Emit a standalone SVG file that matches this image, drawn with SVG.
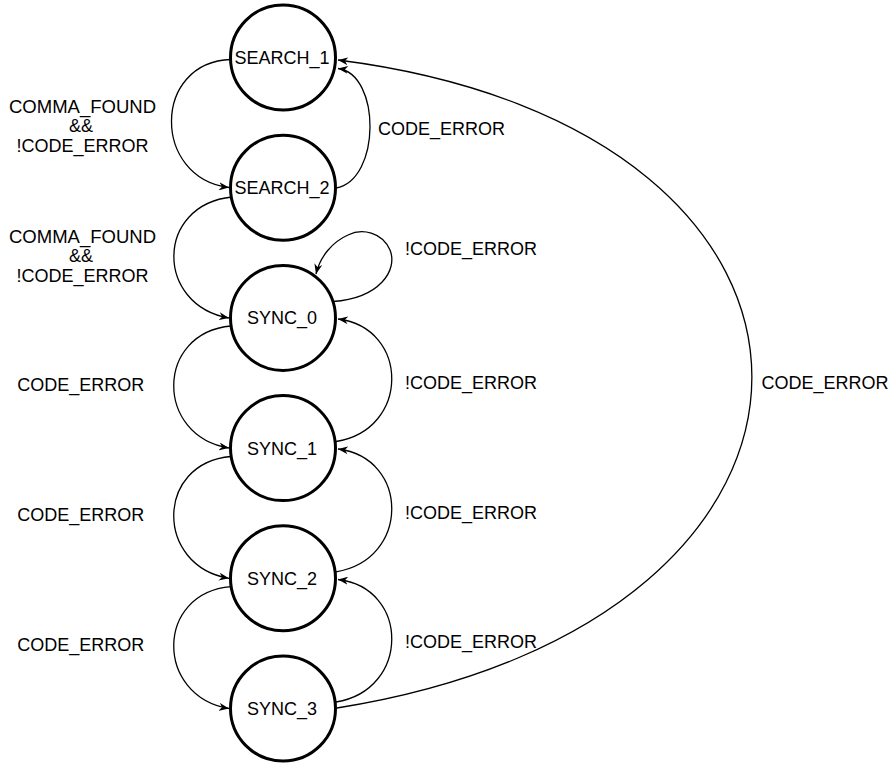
<svg xmlns="http://www.w3.org/2000/svg" width="893" height="763" viewBox="0 0 893 763">
<style>
.node circle{fill:#fff;stroke:#000;stroke-width:3}
text{font-family:"Liberation Sans",Arial,sans-serif;font-size:18px;fill:#000;text-anchor:middle}
.edge{fill:none;stroke:#000;stroke-width:1.3;marker-end:url(#arr)}
</style>
<defs>
<marker id="arr" viewBox="0 0 10 8" refX="10" refY="4" markerWidth="10" markerHeight="8" markerUnits="userSpaceOnUse" orient="auto">
<path d="M0,0 L10,4 L0,8 L3,4 Z" fill="#000"/>
</marker>
</defs>
<rect width="893" height="763" fill="#fff"/>
<g id="connectors">
<path class="edge" d="M231,59.5 C152,62 152,178 229,187.5"/>
<path class="edge" d="M336,188 C381,180 381,74 338,68.5"/>
<path class="edge" d="M232,197 C155,205 155,305 229,318"/>
<path class="edge" d="M333,301.5 C380,298 398,270 390,250 C382,232 362,228 348,235 C332,242 320,257 316,274"/>
<path class="edge" d="M231,326 C155,333 155,436 229,448"/>
<path class="edge" d="M336,441.5 C410,430 410,328 338,319"/>
<path class="edge" d="M231,456.5 C155,463 155,566 229,578.3"/>
<path class="edge" d="M336,571.8 C410,560 410,458 338,449"/>
<path class="edge" d="M231,586.7 C155,593 155,696 229,708.5"/>
<path class="edge" d="M336,702 C410,690 410,588 338,579.5"/>
<path class="edge" d="M337,708 C890,620 890,130 338,60"/>
</g>
<g id="labels">
<text x="82.5" y="113" textLength="147" lengthAdjust="spacingAndGlyphs">COMMA_FOUND</text>
<text x="81" y="132">&amp;&amp;</text>
<text x="82.5" y="151.5">!CODE_ERROR</text>
<text x="82.5" y="242.5" textLength="147" lengthAdjust="spacingAndGlyphs">COMMA_FOUND</text>
<text x="81" y="262">&amp;&amp;</text>
<text x="82.5" y="281.5">!CODE_ERROR</text>
<text x="441.5" y="135">CODE_ERROR</text>
<text x="471" y="255">!CODE_ERROR</text>
<text x="80.7" y="391">CODE_ERROR</text>
<text x="80.7" y="521">CODE_ERROR</text>
<text x="80.7" y="651">CODE_ERROR</text>
<text x="471" y="389">!CODE_ERROR</text>
<text x="471" y="519">!CODE_ERROR</text>
<text x="471" y="648">!CODE_ERROR</text>
<text x="825" y="389">CODE_ERROR</text>
</g>
<g id="SEARCH_1" class="node"><circle cx="283" cy="57.5" r="52.5"/><text x="282" y="64">SEARCH_1</text></g>
<g id="SEARCH_2" class="node"><circle cx="283" cy="187.7" r="52.5"/><text x="282" y="194.2">SEARCH_2</text></g>
<g id="SYNC_0" class="node"><circle cx="283" cy="317.9" r="52.5"/><text x="282" y="324.4">SYNC_0</text></g>
<g id="SYNC_1" class="node"><circle cx="283" cy="448.1" r="52.5"/><text x="282" y="454.6">SYNC_1</text></g>
<g id="SYNC_2" class="node"><circle cx="283" cy="578.3" r="52.5"/><text x="282" y="584.8">SYNC_2</text></g>
<g id="SYNC_3" class="node"><circle cx="283" cy="708.5" r="52.5"/><text x="282" y="715">SYNC_3</text></g>
</svg>
